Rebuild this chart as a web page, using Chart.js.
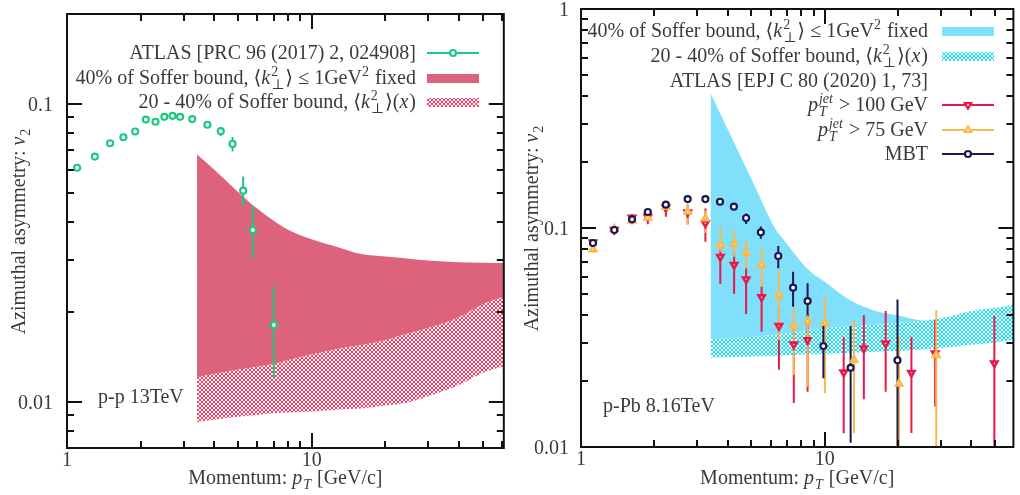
<!DOCTYPE html>
<html>
<head>
<meta charset="utf-8">
<script src="https://cdn.jsdelivr.net/npm/chart.js@4.4.1/dist/chart.umd.min.js"></script>
<style>
  html, body { margin: 0; padding: 0; background: #fff; }
  canvas { position: absolute; top: 0; }
  #ppChart { left: 0; }
  #pPbChart { left: 510px; }
</style>
</head>
<body>
<canvas id="ppChart" width="510" height="495"></canvas>
<canvas id="pPbChart" width="510" height="495"></canvas>
<script>
// ---- left panel: p-p 13 TeV, ATLAS PRC 96 ----
const ppX  = [1.1, 1.3, 1.5, 1.7, 1.9, 2.1, 2.3, 2.5, 2.7, 2.9, 3.25, 3.75, 4.25, 4.75, 5.25, 5.75, 7.0];
const ppV2 = [0.0610, 0.0665, 0.0737, 0.0772, 0.0807, 0.0885, 0.0870, 0.0904, 0.0911, 0.0904, 0.0888, 0.0850, 0.0809, 0.0733, 0.0511, 0.0377, 0.0181];
const ppHi = [0.0617, 0.0672, 0.0744, 0.0779, 0.0814, 0.0893, 0.0878, 0.0912, 0.0919, 0.0912, 0.0897, 0.0870, 0.0830, 0.0773, 0.0570, 0.0452, 0.0243];
const ppLo = [0.0603, 0.0658, 0.0730, 0.0765, 0.0800, 0.0877, 0.0862, 0.0896, 0.0903, 0.0896, 0.0879, 0.0832, 0.0780, 0.0691, 0.0454, 0.0302, 0.0120];

// Soffer bound bands (p-p)
const ppBandX     = [3.4, 4, 5, 6, 7, 8, 10, 13, 16, 20, 25, 30, 40, 50, 61];
const ppFixedUp   = [0.0675, 0.0600, 0.0506, 0.0444, 0.0405, 0.0378, 0.0351, 0.0329, 0.0313, 0.0307, 0.0302, 0.0298, 0.0294, 0.0293, 0.0292];
const ppRangeUp   = [0.0121, 0.0124, 0.0128, 0.0131, 0.0134, 0.0138, 0.0144, 0.0151, 0.0155, 0.0161, 0.0170, 0.0177, 0.0192, 0.0212, 0.0225];
const ppRangeLo   = [0.00854, 0.00872, 0.00891, 0.00903, 0.00915, 0.0092, 0.00928, 0.00942, 0.0095, 0.00972, 0.00997, 0.01043, 0.01138, 0.01249, 0.0132];

// ---- right panel: p-Pb 8.16 TeV, ATLAS EPJ C 80 ----
const mbtX  = [1.12, 1.37, 1.62, 1.88, 2.23, 2.74, 3.24, 3.72, 4.24, 4.76, 5.47, 6.45, 7.42, 8.51, 9.88, 12.78, 19.9];
const mbtV2 = [0.0854, 0.0979, 0.1096, 0.1183, 0.1278, 0.1356, 0.1356, 0.1318, 0.1251, 0.1111, 0.0956, 0.0745, 0.0534, 0.0464, 0.0289, 0.0230, 0.0249];
const mbtHi = [0.0875, 0.1000, 0.1120, 0.1210, 0.1300, 0.1380, 0.1380, 0.1340, 0.1280, 0.1165, 0.1017, 0.0828, 0.0632, 0.0559, 0.0374, 0.0357, 0.0472];
const mbtLo = [0.0835, 0.0960, 0.1070, 0.1160, 0.1255, 0.1330, 0.1330, 0.1295, 0.1220, 0.1044, 0.0893, 0.0655, 0.0437, 0.0370, 0.0206, 0.01047, 0.005];

const jet100X  = [1.12, 1.37, 1.62, 1.88, 2.23, 2.74, 3.24, 3.73, 4.25, 4.76, 5.51, 6.49, 7.47, 8.51, 11.97, 14.48, 17.8, 22.7, 28.4, 49.7];
const jet100V2 = [0.0861, 0.0980, 0.1117, 0.1125, 0.1238, 0.1180, 0.1050, 0.0739, 0.0678, 0.0583, 0.0483, 0.0357, 0.0294, 0.0308, 0.0219, 0.0282, 0.0297, 0.0218, 0.0268, 0.0241];
const jet100Hi = [0.0890, 0.1005, 0.1160, 0.1165, 0.1318, 0.1280, 0.1227, 0.0850, 0.0780, 0.0655, 0.0540, 0.0430, 0.0370, 0.0400, 0.0319, 0.0400, 0.0418, 0.0319, 0.0380, 0.0396];
const jet100Lo = [0.0835, 0.0955, 0.1040, 0.1040, 0.1126, 0.1040, 0.0866, 0.0555, 0.0500, 0.0405, 0.0336, 0.0225, 0.0159, 0.0179, 0.01155, 0.0165, 0.0179, 0.0116, 0.0153, 0.005];

const jet75X  = [1.12, 1.37, 1.62, 1.88, 2.23, 2.74, 3.24, 3.73, 4.25, 4.76, 5.51, 6.49, 7.47, 8.51, 10.03, 13.19, 20.2, 28.7];
const jet75V2 = [0.0799, 0.0990, 0.1080, 0.1115, 0.1250, 0.1187, 0.1106, 0.0836, 0.0845, 0.0772, 0.0678, 0.0494, 0.0357, 0.0376, 0.0369, 0.0250, 0.01945, 0.0263];
const jet75Hi = [0.0825, 0.1015, 0.1110, 0.1150, 0.1290, 0.1275, 0.1200, 0.1014, 0.0980, 0.0880, 0.0808, 0.0643, 0.0430, 0.0445, 0.0483, 0.0380, 0.0319, 0.0422];
const jet75Lo = [0.0775, 0.0965, 0.1050, 0.1080, 0.1210, 0.1033, 0.0950, 0.0780, 0.0740, 0.0655, 0.0540, 0.0308, 0.0213, 0.01886, 0.01758, 0.01155, 0.005, 0.005];

// Soffer bound bands (p-Pb)
const pPbBandX   = [3.4, 4, 5, 6.29, 6.8, 8.59, 10, 12.66, 16.2, 20, 25.9, 30, 40, 50, 59.5];
const pPbFixedUp = [0.412, 0.2826, 0.168, 0.0986, 0.0881, 0.0643, 0.0568, 0.0469, 0.0418, 0.0399, 0.0378, 0.0387, 0.0418, 0.0432, 0.0445];
const pPbRangeUp = [0.0310, 0.0313, 0.0318, 0.0325, 0.0328, 0.0340, 0.0348, 0.0355, 0.0362, 0.0369, 0.0378, 0.0387, 0.0418, 0.0432, 0.0445];
const pPbRangeLo = [0.0256, 0.0257, 0.0259, 0.0261, 0.0262, 0.0265, 0.0266, 0.0269, 0.0272, 0.0275, 0.0279, 0.0283, 0.0293, 0.0300, 0.0308];

// ticks
const xMajor = [1, 10];
const xTickLabels = ['1', '10'];
const xMinor = [2, 3, 4, 5, 6, 7, 8, 9, 20, 30, 40, 50, 60];
const ppYMajor = [0.01, 0.1];
const ppYTickLabels = ['0.01', '0.1'];
const ppYMinor = [0.008, 0.009, 0.02, 0.03, 0.04, 0.05, 0.06, 0.07, 0.08, 0.09];
const pPbYMajor = [0.01, 0.1, 1];
const pPbYTickLabels = ['0.01', '0.1', '1'];
const pPbYMinor = [0.02, 0.03, 0.04, 0.05, 0.06, 0.07, 0.08, 0.09, 0.2, 0.3, 0.4, 0.5, 0.6, 0.7, 0.8, 0.9];

const green = '#1ec884', pink = '#dc637b', cyanSolid = '#80dffa';
const red = '#e8194b', orange = '#fbb84c', navy = '#1b1850';
const textColor = '#3a3a3a';
const FONT = '"Liberation Serif", "DejaVu Serif", serif';
const FS = 20;

// cross-hatch fill like gnuplot's pattern fill
function hatch(color) {
  const c = document.createElement('canvas');
  c.width = c.height = 4;
  const g = c.getContext('2d');
  g.fillStyle = '#fff';
  g.fillRect(0, 0, 4, 4);
  g.fillStyle = color;
  [[0,0],[1,1],[2,2],[3,3],[3,0],[2,1],[1,2],[0,3]].forEach(([x, y]) => g.fillRect(x, y, 1, 1));
  return g.createPattern(c, 'repeat');
}
const redHatch = hatch('#ff3a62');
const cyanHatch = hatch('#10e2f5');

function pts(xs, ys) { return xs.map((x, i) => ({ x, y: ys[i] })); }

const edge = {
  borderColor: 'rgba(0,0,0,0)', borderWidth: 0, pointRadius: 0,
  showLine: true, cubicInterpolationMode: 'monotone', order: 10
};
function band(xs, lo, mid, hi, hatchFill, solidFill) {
  return [
    { ...edge, data: pts(xs, lo) },
    { ...edge, data: pts(xs, mid), fill: '-1', backgroundColor: hatchFill },
    { ...edge, data: pts(xs, hi), fill: '-1', backgroundColor: solidFill }
  ];
}
function series(xs, ys, lo, hi, color, style, rot) {
  return {
    data: pts(xs, ys), errLo: lo, errHi: hi,
    borderColor: color, backgroundColor: '#fff',
    pointStyle: style, pointRotation: rot || 0,
    pointRadius: style === 'circle' ? 3 : 3.6, pointBorderWidth: style === 'circle' ? 2.2 : 2.6, order: 1
  };
}

// --- rich text helpers (italic, sub / superscripts) ---
function font(size, it) { return (it ? 'italic ' : '') + size + 'px ' + FONT; }
function segWidth(ctx, s) {
  if (typeof s === 'string') { ctx.font = font(FS); return ctx.measureText(s).width; }
  if (s.i) { ctx.font = font(FS, true); return ctx.measureText(s.i).width + 1; }
  ctx.font = font(FS * 0.7, s.it);
  return Math.max(s.sup ? ctx.measureText(s.sup).width : 0, s.sub ? ctx.measureText(s.sub).width : 0) + 1;
}
function drawRich(ctx, segs, x, y, align) {
  const w = segs.reduce((t, s) => t + segWidth(ctx, s), 0);
  let cx = align === 'right' ? x - w : align === 'center' ? x - w / 2 : x;
  ctx.fillStyle = textColor;
  ctx.textAlign = 'left';
  ctx.textBaseline = 'alphabetic';
  segs.forEach(s => {
    const sw = segWidth(ctx, s);
    if (typeof s === 'string') { ctx.font = font(FS); ctx.fillText(s, cx, y); }
    else if (s.i) { ctx.font = font(FS, true); ctx.fillText(s.i, cx, y); }
    else {
      ctx.font = font(FS * 0.7, s.it);
      if (s.sup) ctx.fillText(s.sup, cx, y - FS * 0.42);
      if (s.sub) ctx.fillText(s.sub, cx, y + FS * 0.25);
    }
    cx += sw;
  });
}

const k2 = [{ i: 'k' }, { sup: '2', sub: '⊥' }];
const fixedLabel = ['40% of Soffer bound, ⟨', ...k2, '⟩ ≤ 1GeV', { sup: '2' }, ' fixed'];
const rangeLabel = ['20 - 40% of Soffer bound, ⟨', ...k2, '⟩(', { i: 'x' }, ')'];
const xTitle = ['Momentum: ', { i: 'p' }, { sub: 'T', it: true }, ' [GeV/c]'];
const yTitle = ['Azimuthal asymmetry: ', { i: 'v' }, { sub: '2' }];

const errorBars = {
  id: 'errorBars',
  beforeDatasetsDraw(chart) {
    const { ctx, chartArea: a, scales: { x, y } } = chart;
    ctx.save();
    ctx.beginPath();
    ctx.rect(a.left, a.top, a.width, a.height);
    ctx.clip();
    for (let d = chart.data.datasets.length - 1; d >= 0; d--) {
      const ds = chart.data.datasets[d];
      if (!ds.errLo) continue;
      ctx.strokeStyle = ds.borderColor;
      ctx.lineWidth = 2;
      ds.data.forEach((p, i) => {
        const px = x.getPixelForValue(p.x);
        ctx.beginPath();
        ctx.moveTo(px, y.getPixelForValue(ds.errLo[i]));
        ctx.lineTo(px, y.getPixelForValue(ds.errHi[i]));
        ctx.stroke();
      });
    }
    ctx.restore();
  }
};

function decor(o) {
  return {
    id: 'decor',
    afterDraw(chart) {
      const { ctx, chartArea: a, scales: { x, y } } = chart;
      ctx.save();
      ctx.strokeStyle = '#111';
      ctx.lineWidth = 2;
      const line = (x1, y1, x2, y2) => { ctx.beginPath(); ctx.moveTo(x1, y1); ctx.lineTo(x2, y2); ctx.stroke(); };
      xMajor.concat(xMinor).forEach(v => {
        if (v <= x.min || v >= x.max) return;
        const px = Math.round(x.getPixelForValue(v));
        const len = xMajor.includes(v) ? 15 : 7;
        line(px, a.bottom, px, a.bottom - len);
        line(px, a.top, px, a.top + len);
      });
      o.yMajor.concat(o.yMinor).forEach(v => {
        if (v <= y.min || v >= y.max) return;
        const py = Math.round(y.getPixelForValue(v));
        const len = o.yMajor.includes(v) ? 15 : 7;
        line(a.left, py, a.left + len, py);
        line(a.right, py, a.right - len, py);
      });
      ctx.strokeRect(a.left, a.top, a.right - a.left, a.bottom - a.top);

      // tick labels
      ctx.fillStyle = textColor;
      ctx.font = font(FS);
      ctx.textBaseline = 'alphabetic';
      ctx.textAlign = 'center';
      xMajor.forEach((v, i) => ctx.fillText(xTickLabels[i], x.getPixelForValue(v), a.bottom + 18));
      ctx.textAlign = 'right';
      o.yMajor.forEach((v, i) => ctx.fillText(o.yLabels[i], a.left - o.yLabelGap, y.getPixelForValue(v) + 7));

      // axis titles
      drawRich(ctx, xTitle, (a.left + a.right) / 2, 484, 'center');
      ctx.save();
      ctx.translate(o.yTitleX, (a.top + a.bottom) / 2);
      ctx.rotate(-Math.PI / 2);
      drawRich(ctx, yTitle, 0, 0, 'center');
      ctx.restore();

      // annotation
      drawRich(ctx, [o.note], o.noteX, o.noteY, 'left');

      // legend
      const s0 = o.symX, s1 = o.symX + 52;
      o.legend.forEach(e => {
        drawRich(ctx, e.text, o.legendX, e.y, 'right');
        const cy = e.y - 6;
        if (e.fill) {
          ctx.fillStyle = e.fill;
          ctx.fillRect(s0, cy - 4, s1 - s0, 9);
        } else if (e.color) {
          ctx.strokeStyle = e.color;
          ctx.lineWidth = 2;
          line(s0, cy, s1, cy);
          ctx.fillStyle = '#fff';
          ctx.lineWidth = 2.2;
          Chart.helpers.drawPoint(ctx, { pointStyle: e.style, radius: e.style === 'circle' ? 3 : 3.6, rotation: e.rot || 0, borderWidth: 2.2 }, (s0 + s1) / 2, cy);
        }
      });
      ctx.restore();
    }
  };
}

function makeChart(id, datasets, xMax, yMin, yMax, pad, o) {
  return new Chart(document.getElementById(id), {
    type: 'scatter',
    data: { datasets },
    options: {
      responsive: false,
      animation: false,
      devicePixelRatio: 1,
      events: [],
      layout: { padding: pad },
      scales: {
        x: { type: 'logarithmic', min: 1, max: xMax, display: false },
        y: { type: 'logarithmic', min: yMin, max: yMax, display: false }
      },
      plugins: { legend: { display: false }, tooltip: { enabled: false }, filler: { drawTime: 'beforeDatasetsDraw' } }
    },
    plugins: [errorBars, decor(o)]
  });
}

makeChart('ppChart',
  [series(ppX, ppV2, ppLo, ppHi, green, 'circle'),
   ...band(ppBandX, ppRangeLo, ppRangeUp, ppFixedUp, redHatch, pink)],
  61, 0.007, 0.2, { left: 67, right: 3, top: 14, bottom: 47 },
  {
    yMajor: ppYMajor, yMinor: ppYMinor, yLabels: ppYTickLabels, yLabelGap: 14, yTitleX: 25,
    note: 'p-p 13TeV', noteX: 98, noteY: 403,
    legendX: 416, symX: 427,
    legend: [
      { text: ['ATLAS [PRC 96 (2017) 2, 024908]'], y: 59, color: green, style: 'circle' },
      { text: fixedLabel, y: 84, fill: pink },
      { text: rangeLabel, y: 108, fill: redHatch }
    ]
  });

makeChart('pPbChart',
  [series(mbtX, mbtV2, mbtLo, mbtHi, navy, 'circle'),
   series(jet75X, jet75V2, jet75Lo, jet75Hi, orange, 'triangle'),
   series(jet100X, jet100V2, jet100Lo, jet100Hi, red, 'triangle', 180),
   ...band(pPbBandX, pPbRangeLo, pPbRangeUp, pPbFixedUp, cyanHatch, cyanSolid)],
  59.5, 0.01, 1, { left: 71, right: 1, top: 9, bottom: 48 },
  {
    yMajor: pPbYMajor, yMinor: pPbYMinor, yLabels: pPbYTickLabels, yLabelGap: 12, yTitleX: 28,
    note: 'p-Pb 8.16TeV', noteX: 93, noteY: 412,
    legendX: 418, symX: 432,
    legend: [
      { text: fixedLabel, y: 37, fill: cyanSolid },
      { text: rangeLabel, y: 62, fill: cyanHatch },
      { text: ['ATLAS [EPJ C 80 (2020) 1, 73]'], y: 87 },
      { text: [{ i: 'p' }, { sup: 'jet', sub: 'T', it: true }, ' > 100 GeV'], y: 111, color: red, style: 'triangle', rot: 180 },
      { text: [{ i: 'p' }, { sup: 'jet', sub: 'T', it: true }, ' > 75 GeV'], y: 136, color: orange, style: 'triangle' },
      { text: ['MBT'], y: 160, color: navy, style: 'circle' }
    ]
  });
</script>
</body>
</html>
